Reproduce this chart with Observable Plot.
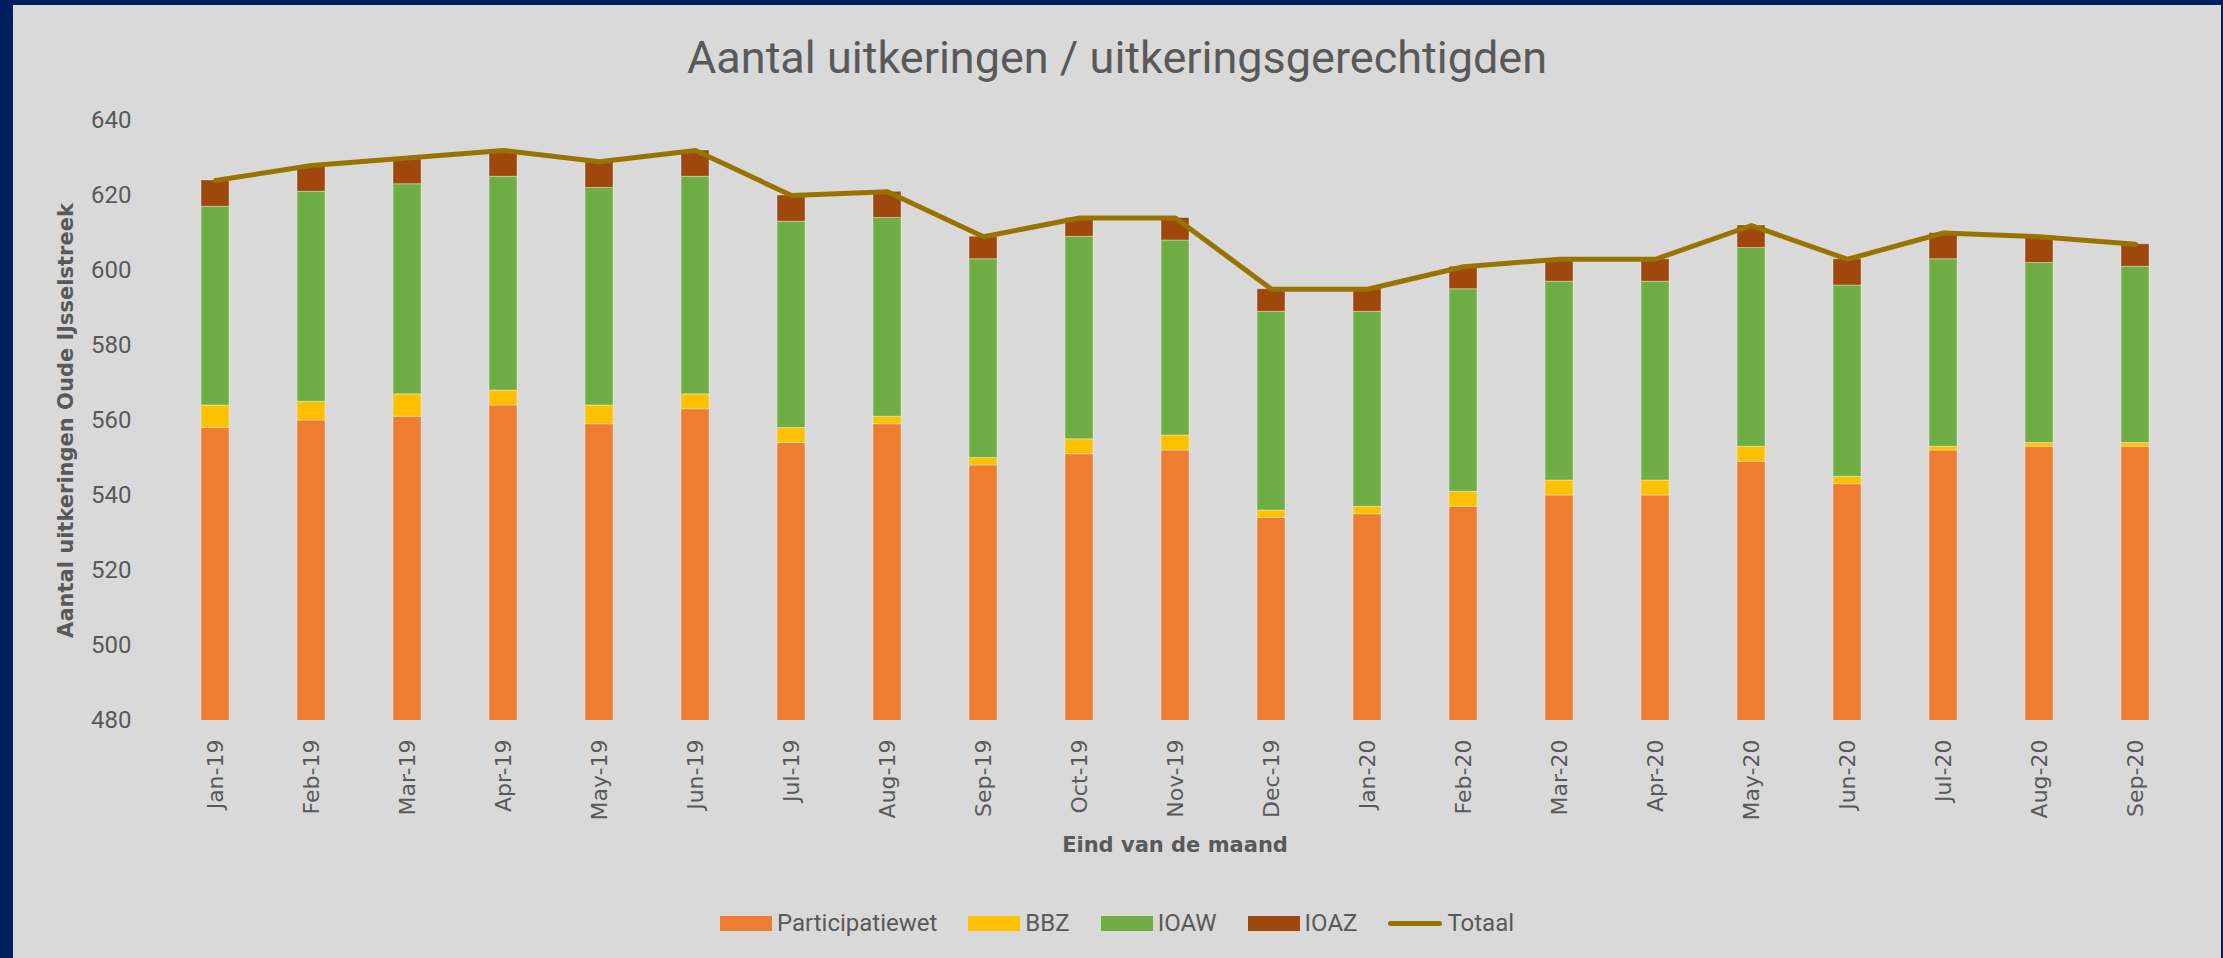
<!DOCTYPE html>
<html><head><meta charset="utf-8">
<script src="https://cdn.jsdelivr.net/npm/d3@7"></script>
<script src="https://cdn.jsdelivr.net/npm/@observablehq/plot@0.6"></script>
<style>
html,body{margin:0;padding:0;background:#001F5F;width:2223px;height:958px;overflow:hidden}
#frame{position:absolute;left:13px;top:5px;width:2208px;height:953px;background:#D9D9D9}
#title{position:absolute;left:0;right:0;top:30px;text-align:center;font-family:Roboto,sans-serif;font-size:45px;line-height:1;color:#595959;white-space:nowrap}
#chart{position:absolute;left:0;top:95px}
#legend{position:absolute;left:0;right:0;top:906px;display:flex;justify-content:center;align-items:center;font-family:Roboto,sans-serif;font-size:24px;line-height:24px;color:#595959;gap:31px}
.item{display:flex;align-items:center;gap:5px}
.sw{width:52px;height:15px}
.ln{width:54px;height:5px;border-radius:3px}
</style></head>
<body>
<div id="frame">
  <div id="title"></div>
  <div id="chart"></div>
  <div id="legend"></div>
</div>
<script>
const months = ["Jan-19","Feb-19","Mar-19","Apr-19","May-19","Jun-19","Jul-19","Aug-19","Sep-19","Oct-19","Nov-19","Dec-19","Jan-20","Feb-20","Mar-20","Apr-20","May-20","Jun-20","Jul-20","Aug-20","Sep-20"];
const seriesNames = ["Participatiewet","BBZ","IOAW","IOAZ"];
const participatiewet = [558,560,561,564,559,563,554,559,548,551,552,534,535,537,540,540,549,543,552,553,553];
const bbz             = [6,5,6,4,5,4,4,2,2,4,4,2,2,4,4,4,4,2,1,1,1];
const ioaw            = [53,56,56,57,58,58,55,53,53,54,52,53,52,54,53,53,53,51,50,48,47];
const ioaz            = [7,7,7,7,7,7,7,7,6,5,6,6,6,6,6,6,6,7,7,7,6];
const totaal          = [624,628,630,632,629,632,620,621,609,614,614,595,595,601,603,603,612,603,610,609,607];
const yTicks = [480,500,520,540,560,580,600,620,640];
const lineName = "Totaal";
const title = "Aantal uitkeringen / uitkeringsgerechtigden";
const yTitle = "Aantal uitkeringen Oude IJsselstreek";
const xTitle = "Eind van de maand";
const barColors = ["#ED7D31","#FFC000","#70AD47","#9E480E"];
const lineColor = "#997300";
const textColor = "#595959";

const seriesValues = [participatiewet, bbz, ioaw, ioaz];
const rows = [];
seriesValues.forEach((arr, si) => arr.forEach((v, i) => rows.push({month: months[i], series: seriesNames[si], value: v})));
const lineRows = months.map((m, i) => ({month: m, value: totaal[i]}));

const chart = Plot.plot({
  width: 2208, height: 780,
  marginTop: 20, marginBottom: 160, marginLeft: 144, marginRight: 29,
  style: {background: "transparent", fontFamily: "Roboto, sans-serif", fontSize: "24px", color: textColor},
  x: {domain: months, paddingInner: 0.71, paddingOuter: 0.355},
  y: {domain: [480, 640]},
  color: {domain: seriesNames, range: barColors},
  marks: [
    Plot.barY(rows, {x: "month", y: "value", fill: "series", order: seriesNames, clip: true, stroke: "#ffffff", strokeOpacity: 0.35, strokeWidth: 1}),
    Plot.line(lineRows, {x: "month", y: "value", stroke: lineColor, strokeWidth: 5, strokeLinecap: "round", strokeLinejoin: "round"}),
    Plot.axisY({ticks: yTicks, tickSize: 0, tickPadding: 26, label: null, fontFamily: "Roboto, sans-serif", fontSize: 24, fill: textColor}),
    Plot.axisX({tickSize: 0, tickPadding: 19, tickRotate: -90, label: null, fontFamily: "DejaVu Sans", fontSize: 22, fill: textColor}),
    Plot.text([yTitle], {frameAnchor: "left", dx: -91, rotate: -90, textAnchor: "middle", text: d => d, fontWeight: "bold", fontFamily: "DejaVu Sans", fontSize: 21, fill: textColor}),
    Plot.text([xTitle], {frameAnchor: "bottom", dy: 131, textAnchor: "middle", text: d => d, fontWeight: "bold", fontFamily: "DejaVu Sans", fontSize: 21, fill: textColor})
  ]
});
document.getElementById("chart").appendChild(chart);
document.getElementById("title").textContent = title;

const legend = document.getElementById("legend");
seriesNames.forEach((name, i) => {
  const it = document.createElement("div"); it.className = "item";
  const sw = document.createElement("div"); sw.className = "sw"; sw.style.background = barColors[i];
  const tx = document.createElement("span"); tx.textContent = name;
  it.appendChild(sw); it.appendChild(tx); legend.appendChild(it);
});
{
  const it = document.createElement("div"); it.className = "item";
  const sw = document.createElement("div"); sw.className = "ln"; sw.style.background = lineColor;
  const tx = document.createElement("span"); tx.textContent = lineName;
  it.appendChild(sw); it.appendChild(tx); legend.appendChild(it);
}
</script>
</body></html>
